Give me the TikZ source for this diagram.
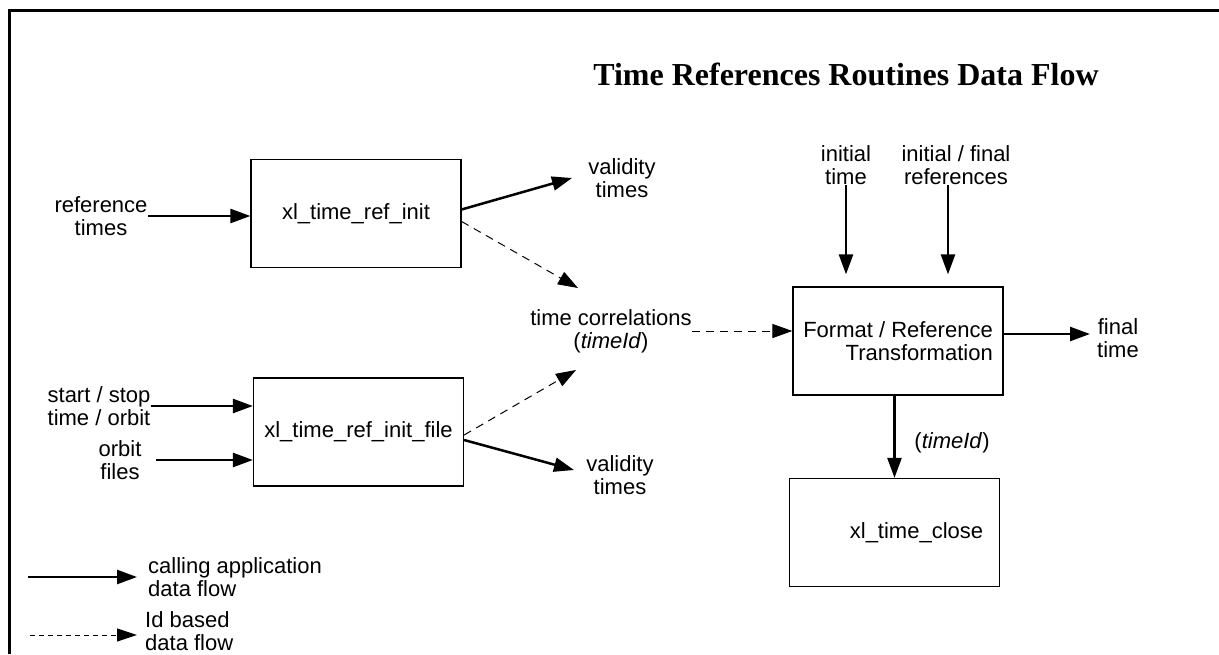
\documentclass[tikz,border=0pt]{standalone}
\usepackage{fontspec}
\setmainfont{Liberation Sans}
\newfontfamily\titlefont{Liberation Serif}
\usetikzlibrary{arrows.meta,positioning}

\begin{document}
\begin{tikzpicture}[x=1pt,y=-1pt,
    font=\fontsize{22}{23}\selectfont,
    routine/.style={
% The shape:
rectangle,
% The size:
minimum width=210pt,
minimum height=108pt,
% The border:
line width=1.2pt, draw,
},
    tag/.style={
% The text:
align=center,
% The size:
inner sep=0pt,
},
    flow/.style={
% The line:
line width=2.5pt,
% The tip:
-{Triangle[length=20pt,width=14pt]},
},
    idflow/.style={
% The line:
line width=1pt, dash pattern=on 8pt off 6pt,
% The tip:
-{Triangle[length=20pt,width=14pt]},
},
    legidflow/.style={
% The line:
line width=1pt, dash pattern=on 5pt off 4pt,
% The tip:
-{Triangle[length=20pt,width=13pt]},
},
]
  \useasboundingbox (0,0) rectangle (1219,654);
  \coordinate (frame-bl) at (9,654);
  \coordinate (frame-tl) at (9,10);
  \coordinate (frame-tr) at (1219,10);
  \draw[line width=3pt] (frame-bl) -- (frame-tl) -- (frame-tr);

  \node[font=\titlefont\bfseries\fontsize{32}{36}\selectfont,anchor=base]
    (title) at (846,85) {Time References Routines Data Flow};

  \node[routine]                      (init) at (356,213.5) {xl\_time\_ref\_init};
  \node[routine]                      (initfile) at (358.5,432) {xl\_time\_ref\_init\_file};
  \node[routine,align=right]          (format) at (898,341) {Format / Reference\\Transformation};
  \node[routine,label={[xshift=22pt]center:xl\_time\_close}]
    (close) at (894.5,532.5) {};

  \node[tag]                          (reftimes) at (101,216) {reference\\times};
  \node[tag]                          (startstop) at (99,406) {start / stop\\time / orbit};
  \node[tag]                          (orbitfiles) at (120,460) {orbit\\files};
  \node[tag]                          (valtop) at (622,178) {validity\\times};
  \node[tag]                          (valbot) at (620,475) {validity\\times};
  \node[tag]                          (timecorr) at (611,331) {time correlations\\(\textit{timeId})};
  \node[tag]                          (inittime) at (846,165) {initial\\time};
  \node[tag]                          (initref) at (956,165) {initial / final\\references};
  \node[tag]                          (finaltime) at (1118,338) {final\\time};
  \node[tag]                          (closeid) at (952,443) {(\textit{timeId})};

  \coordinate (corrin-a) at (578,288);
  \coordinate (corrin-b) at (576,370);
  \coordinate (valin-top) at (572,178);
  \coordinate (valin-bot) at (574,470);
  \coordinate (finalin) at (1090,334);

  \draw[flow] (reftimes.east) -- (reftimes.east -| init.west);
  \draw[flow] (startstop.east) -- (startstop.east -| initfile.west);
  \draw[flow] ([xshift=14pt]orbitfiles.east) -- (orbitfiles.east -| initfile.west);
  \draw[flow] ([yshift=4pt]init.east) -- (valin-top);
  \draw[flow] ([yshift=-8pt]initfile.east) -- (valin-bot);
  \draw[idflow] ([yshift=-8pt]init.east) -- (corrin-a);
  \draw[idflow] ([yshift=-3pt]initfile.east) -- (corrin-b);
  \draw[idflow] (timecorr.east) -- (timecorr.east -| format.west);
  \draw[flow] (inittime.south) -- ([yshift=12pt]inittime.south |- format.north);
  \draw[flow] ([xshift=-8pt]initref.south) -- ([xshift=-8pt,yshift=12pt]initref.south |- format.north);
  \draw[flow] ([yshift=7pt]format.east) -- (finalin);
  \draw[flow] (format.south -| close.north) -- (close.north);

  % legend
  \coordinate (legsolid) at (28,577);
  \coordinate (legid) at (30,635);
  \node[tag,anchor=west,align=left]   (legsolidtxt) at (148,577) {calling application\\data flow};
  \node[tag,anchor=west,align=left]   (legidtxt) at (145,631) {Id based\\data flow};
  \draw[flow] (legsolid) -- ([xshift=-11pt]legsolid -| legsolidtxt.west);
  \draw[legidflow] (legid) -- ([xshift=-8pt]legid -| legidtxt.west);

\end{tikzpicture}
\end{document}
